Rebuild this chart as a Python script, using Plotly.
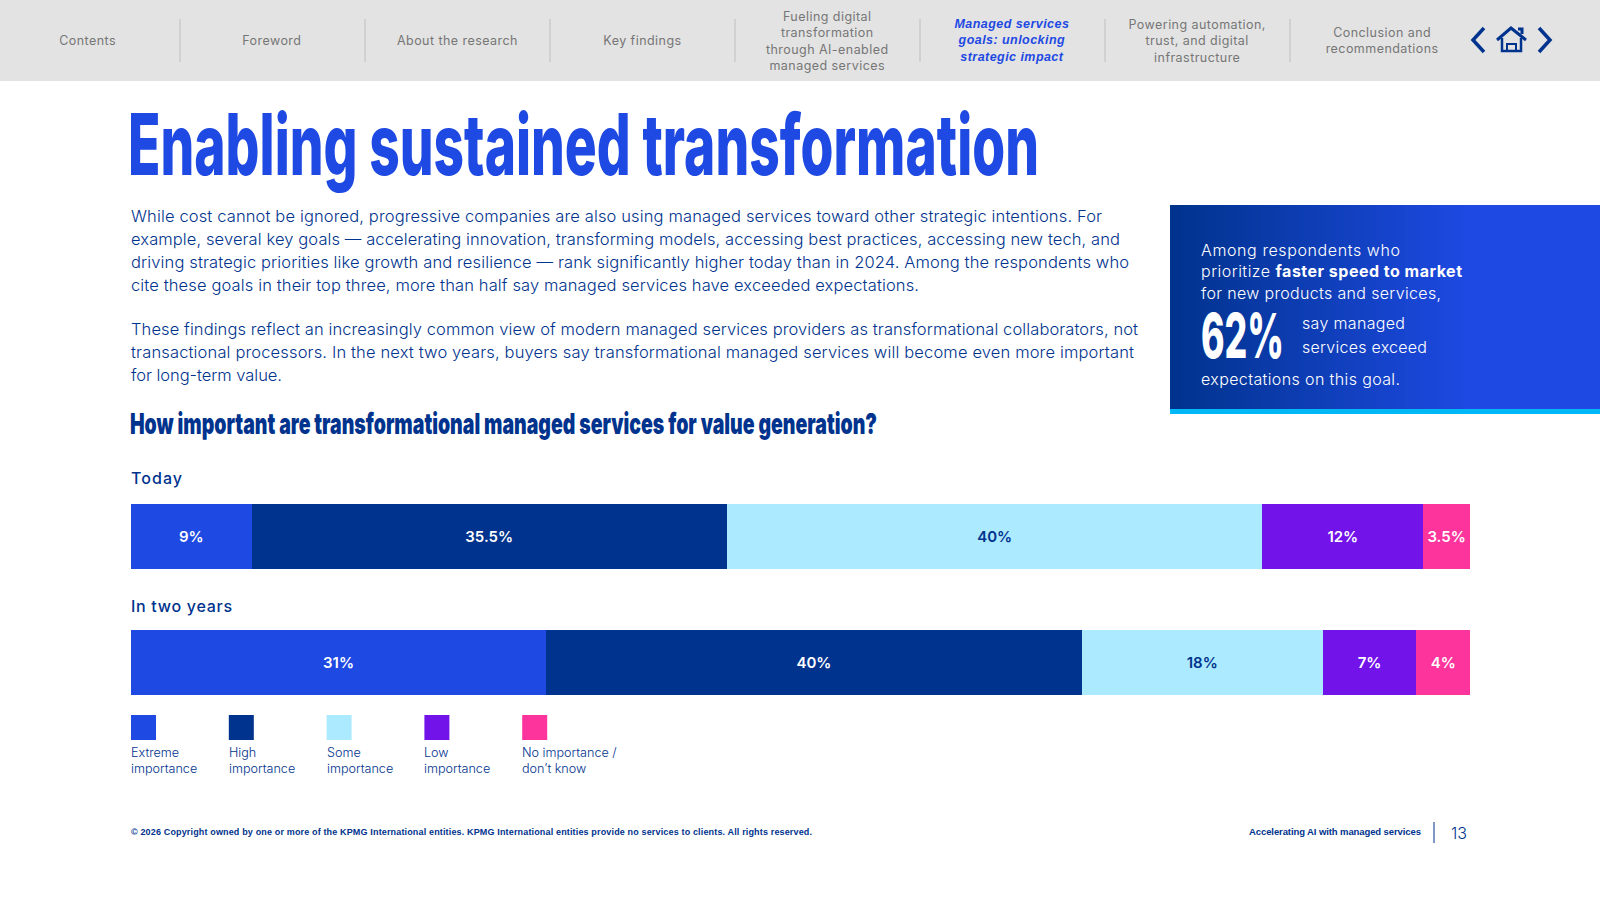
import json
import plotly.graph_objects as go

W, H = 1600, 900

NAVY = "#00338D"
BLUE = "#1E49E2"
LIGHT = "#ACEAFF"
PURPLE = "#7213EA"
PINK = "#FD349C"
CYAN = "#00B8F5"

rows = ["Today", "In two years"]
series_names = ["Extreme<br>importance", "High<br>importance", "Some<br>importance",
                "Low<br>importance", "No importance /<br>don’t know"]
extreme = [9, 31]
high = [35.5, 40]
some = [40, 18]
low = [12, 7]
none_dk = [3.5, 4]
series_values = [extreme, high, some, low, none_dk]
series_colors = [BLUE, NAVY, LIGHT, PURPLE, PINK]
label_colors = ["white", "white", NAVY, "white", "white"]

nav_labels = ["Contents", "Foreword", "About the research", "Key findings",
              "Fueling digital<br>transformation<br>through AI-enabled<br>managed services",
              "Managed services<br>goals: unlocking<br>strategic impact",
              "Powering automation,<br>trust, and digital<br>infrastructure",
              "Conclusion and<br>recommendations"]
nav_active = 5

title = "Enabling sustained transformation"
subtitle = "How important are transformational managed services for value generation?"
para1 = ["While cost cannot be ignored, progressive companies are also using managed services toward other strategic intentions. For",
         "example, several key goals — accelerating innovation, transforming models, accessing best practices, accessing new tech, and",
         "driving strategic priorities like growth and resilience — rank significantly higher today than in 2024. Among the respondents who",
         "cite these goals in their top three, more than half say managed services have exceeded expectations."]
para2 = ["These findings reflect an increasingly common view of modern managed services providers as transformational collaborators, not",
         "transactional processors. In the next two years, buyers say transformational managed services will become even more important",
         "for long-term value."]
copyright_text = "© 2026 Copyright owned by one or more of the KPMG International entities. KPMG International entities provide no services to clients. All rights reserved."
report_name = "Accelerating AI with managed services"

BODY = "Inter"
HEAVY = "Inter"


def px(x):
    return x / W


def py(y):
    return 1 - y / H


def rect(x0, y0, x1, y1, color):
    fig.add_shape(type="rect", xref="paper", yref="paper", x0=px(x0), x1=px(x1), y0=py(y0), y1=py(y1),
                  fillcolor=color, line_width=0, layer="below")


def line(points, color, width=1):
    path = "M" + " L".join(f"{px(a):.5f},{py(b):.5f}" for a, b in points)
    fig.add_shape(type="path", xref="paper", yref="paper", path=path,
                  line=dict(color=color, width=width), layer="above")


def text(s, x, y, size, color=NAVY, weight=300, family=BODY, anchor="left", width=None):
    fig.add_annotation(text=s, xref="paper", yref="paper", x=px(x), y=py(y), xanchor=anchor, yanchor="middle",
                       align=anchor, showarrow=False, borderpad=0, borderwidth=0, width=width,
                       font=dict(family=family, size=size, color=color, weight=weight))


fig = go.Figure()

for name, vals, color, lab in zip(series_names, series_values, series_colors, label_colors):
    fig.add_trace(go.Bar(y=rows, x=vals, orientation="h", name=name.replace("<br>", " "),
                         marker=dict(color=color, line_width=0),
                         texttemplate="%{x}%", textposition="inside", insidetextanchor="middle",
                         textangle=0, constraintext="none",
                         textfont=dict(family=BODY, size=15, color=lab, weight=600)))

# page furniture
rect(0, 0, W, 81, "#E3E3E3")
for i in range(7):
    rect(180 + i * 185 - 0.7, 19, 180 + i * 185 + 0.7, 62, "#C9C9C9")
for i, lab in enumerate(nav_labels):
    if i == nav_active:
        text(f"<i>{lab}</i>", 87 + i * 185, 40.5, 12.5, BLUE, 700, "Liberation Sans", "center")
    else:
        text(lab, 87 + i * 185, 40.5, 12.5, "#767676", 400, BODY, "center")

line([(1484, 28), (1473, 40), (1484, 52)], NAVY, 3.5)
line([(1539, 28), (1550, 40), (1539, 52)], NAVY, 3.5)
line([(1497, 40), (1511, 28), (1526, 40)], NAVY, 3)
line([(1502, 38), (1502, 51), (1521, 51), (1521, 38)], NAVY, 2.5)
line([(1507, 51), (1507, 44), (1516, 44), (1516, 51)], NAVY, 2)
line([(1518, 29), (1522, 29), (1522, 34)], NAVY, 3)

# callout with a left to right gradient
rect(1170, 205, W, 409, BLUE)
c0 = (0, 51, 141)
c1 = (30, 73, 226)
for i in range(60):
    t = i / 59
    col = "rgb(" + ",".join(str(round(a + (b - a) * t)) for a, b in zip(c0, c1)) + ")"
    rect(1170 + i * 5, 205, W, 409, col)
rect(1170, 409, W, 414, CYAN)

# no condensed display face is installed, so the headings get squeezed to these widths below
squeezed = {title: 911, subtitle: 747, "62%": 83}

text(title, 128, 145, 85, BLUE, 800, HEAVY, width=squeezed[title])
for i, s in enumerate(para1):
    text(s, 131, 216 + i * 23, 16.5)
for i, s in enumerate(para2):
    text(s, 131, 329 + i * 23, 16.5)
text(subtitle, 130, 424, 29, NAVY, 900, HEAVY, width=squeezed[subtitle])

for s, y in [("Among respondents who", 250), ("prioritize <b>faster speed to market</b>", 271),
             ("for new products and services,", 293), ("expectations on this goal.", 379)]:
    text(s, 1201, y, 16, "white")
text("62%", 1201, 335, 62, "white", 800, HEAVY, width=squeezed["62%"])
text("say managed", 1302, 323, 16, "white")
text("services exceed", 1302, 347, 16, "white")

text("Today", 131, 478, 16, NAVY, 500)
text("In two years", 131, 606, 16, NAVY, 500)

# legend
for i, (name, color) in enumerate(zip(series_names, series_colors)):
    x = 131 + i * 97.8
    rect(x, 715, x + 25, 740, color)
    text(name, x, 760, 12.6, NAVY, 300)

# footer
text(copyright_text, 131, 832, 9, NAVY, 700, "Liberation Sans")
text(report_name, 1249, 831, 9.5, NAVY, 700, "Liberation Sans")
rect(1433.5, 822, 1434.5, 843, NAVY)
text("13", 1451, 833, 16, NAVY)

fig.update_layout(
    width=W, height=H, margin=dict(l=0, r=0, t=0, b=0),
    barmode="stack", bargap=1 - 65 / 126, showlegend=False,
    paper_bgcolor="white", plot_bgcolor="rgba(0,0,0,0)", hovermode=False,
    xaxis=dict(domain=[px(131), px(1470)], range=[0, 100], visible=False),
    yaxis=dict(domain=[py(725.5), py(473.5)], range=[1.5, -0.5], visible=False,
               categoryorder="array", categoryarray=rows),
)

# the rest only needs its letter spacing opened up to match the reference line lengths
spaced = {
    para1[0]: 971, para1[1]: 989, para1[2]: 998, para1[3]: 788,
    para2[0]: 1007, para2[1]: 1003, para2[2]: 151,
    "Among respondents who": 199, "prioritize faster speed to market": 261,
    "for new products and services,": 240, "expectations on this goal.": 199,
    "say managed": 103, "services exceed": 125,
    "Today": 51, "In two years": 101,
    copyright_text: 681, report_name: 172,
}
nav_plain = [s.replace("<br>", "") for s in nav_labels]
post = """
document.body.style.margin = '0';
var squeezed = %s, spaced = %s, nav = %s;
document.querySelectorAll('.annotation-text').forEach(function (el) {
  var s = el.textContent;
  if (squeezed[s]) { el.setAttribute('textLength', squeezed[s]); el.setAttribute('lengthAdjust', 'spacingAndGlyphs'); }
  else if (spaced[s]) { el.setAttribute('textLength', spaced[s]); el.setAttribute('lengthAdjust', 'spacing'); }
  else if (nav.indexOf(s) >= 0) { el.style.letterSpacing = '0.45px'; }
});
""" % (json.dumps(squeezed), json.dumps(spaced), json.dumps(nav_plain))

fig.write_html("out.html", config={"displayModeBar": False}, post_script=post)
